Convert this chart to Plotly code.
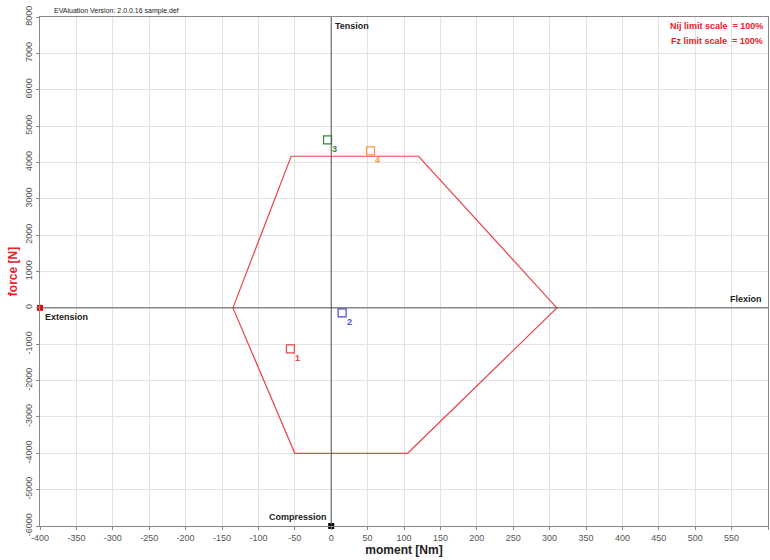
import plotly.graph_objects as go

# Nij limit corridor (moment [Nm], force [N])
corridor_moment = [-135, -55, 120, 310, 105, -50, -135]
corridor_force = [0, 4170, 4170, 0, -4000, -4000, 0]

# Measured points
point_labels = ["1", "2", "3", "4"]
point_moment = [-56, 15, -5, 54]
point_force = [-1130, -140, 4620, 4320]
point_colors = ["#e8464b", "#4b4bd6", "#2e8b3e", "#f39a3c"]

x_ticks = list(range(-400, 601, 50))
y_ticks = list(range(-6000, 8001, 1000))

fig = go.Figure()

fig.add_trace(go.Scatter(x=corridor_moment, y=corridor_force, mode="lines",
                         line=dict(color="#e8464b", width=1.2), hoverinfo="skip",
                         showlegend=False))

for lab, xm, yf, c in zip(point_labels, point_moment, point_force, point_colors):
    fig.add_trace(go.Scatter(x=[xm], y=[yf], mode="markers",
                             marker=dict(symbol="square-open", size=8, color=c, line=dict(width=1.2)),
                             showlegend=False))
    fig.add_annotation(x=xm, y=yf, text="<b>" + lab + "</b>", showarrow=False, xshift=7, yshift=-9,
                       font=dict(color=c, size=9, family="Liberation Sans, Arial"))

# slider markers on the axes
fig.add_trace(go.Scatter(x=[-400], y=[0], mode="markers", cliponaxis=False,
                         marker=dict(symbol="square", size=6, color="red"), showlegend=False))
fig.add_trace(go.Scatter(x=[0], y=[-6000], mode="markers", cliponaxis=False,
                         marker=dict(symbol="square", size=6, color="black"), showlegend=False))

# zero axes
fig.add_shape(type="line", x0=0, x1=0, y0=-6000, y1=8000, line=dict(color="#555", width=1))
fig.add_shape(type="line", x0=-400, x1=600, y0=0, y1=0, line=dict(color="#555", width=1))

fnt = "Liberation Sans, Arial"
fig.add_annotation(x=0, y=8000, text="<b>Tension</b>", showarrow=False, xanchor="left",
                   yanchor="top", xshift=2, yshift=-2, font=dict(size=9, color="#222", family=fnt))
fig.add_annotation(x=600, y=0, text="<b>Flexion</b>", showarrow=False, xanchor="right",
                   yanchor="bottom", xshift=-4, yshift=2, font=dict(size=9, color="#222", family=fnt))
fig.add_annotation(x=-400, y=0, text="<b>Extension</b>", showarrow=False, xanchor="left",
                   yanchor="top", xshift=3, yshift=-2, font=dict(size=9, color="#222", family=fnt))
fig.add_annotation(x=0, y=-6000, text="<b>Compression</b>", showarrow=False, xanchor="right",
                   yanchor="bottom", xshift=-2, yshift=2, font=dict(size=9, color="#222", family=fnt))
fig.add_annotation(x=1, y=1, xref="paper", yref="paper", text="<b>Nij limit scale  = 100%</b>",
                   showarrow=False, xanchor="right", yanchor="top", xshift=-3, yshift=-2,
                   font=dict(size=9, color="#e8202a", family=fnt))
fig.add_annotation(x=1, y=1, xref="paper", yref="paper", text="<b>Fz limit scale  = 100%</b>",
                   showarrow=False, xanchor="right", yanchor="top", xshift=-3, yshift=-17,
                   font=dict(size=9, color="#e8202a", family=fnt))
fig.add_annotation(x=0, y=1, xref="paper", yref="paper", text="EVAluation Version: 2.0.0.16 sample.def",
                   showarrow=False, xanchor="left", yanchor="bottom", xshift=12, yshift=0,
                   font=dict(size=7, color="#222", family=fnt))

fig.update_layout(
    width=770, height=560,
    margin=dict(l=40, r=2, t=17, b=34),
    paper_bgcolor="white", plot_bgcolor="white",
    font=dict(family=fnt),
    showlegend=False,
)
fig.update_xaxes(range=[-400, 600], tickvals=x_ticks, ticktext=[str(v) for v in x_ticks],
                 showgrid=True, gridcolor="#e2e2e2", gridwidth=1, zeroline=False,
                 showline=True, linecolor="#888", linewidth=1, mirror=True,
                 ticks="outside", ticklen=3, tickcolor="#888",
                 tickfont=dict(size=9, color="#555"),
                 title=dict(text="<b>moment [Nm]</b>", font=dict(size=12, color="#222"), standoff=2))
fig.update_yaxes(range=[-6000, 8000], tickvals=y_ticks, ticktext=[str(v) for v in y_ticks],
                 showgrid=True, gridcolor="#e2e2e2", gridwidth=1, zeroline=False,
                 showline=True, linecolor="#888", linewidth=1, mirror=True,
                 ticks="outside", ticklen=3, tickcolor="#888", tickangle=-90,
                 tickfont=dict(size=9, color="#555"),
                 title=dict(text="<b>force [N]</b>", font=dict(size=12, color="#e8202a"), standoff=4))

fig.write_html("out.html", config={"displayModeBar": False},
               post_script="document.body.style.margin='0';document.body.style.overflow='hidden';")
